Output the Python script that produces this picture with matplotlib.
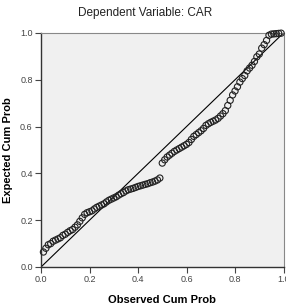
import numpy as np
import matplotlib
matplotlib.use('Agg')
import matplotlib.pyplot as plt

plt.rcParams['font.family'] = ['Liberation Sans', 'DejaVu Sans']

# observed cumulative probability (x) and expected cumulative probability (y)
observed = [0.01, 0.02, 0.03, 0.04, 0.05, 0.06, 0.07, 0.08, 0.09, 0.10,
            0.11, 0.12, 0.13, 0.14, 0.15, 0.16, 0.17, 0.18, 0.19, 0.20,
            0.21, 0.22, 0.23, 0.24, 0.25, 0.26, 0.27, 0.28, 0.29, 0.30,
            0.31, 0.32, 0.33, 0.34, 0.35, 0.36, 0.37, 0.38, 0.39, 0.40,
            0.41, 0.42, 0.43, 0.44, 0.45, 0.46, 0.47, 0.48, 0.49,
            0.50, 0.51, 0.52, 0.53, 0.54, 0.55, 0.56, 0.57, 0.58, 0.59,
            0.60, 0.61, 0.62, 0.63, 0.64, 0.65, 0.66, 0.67, 0.68, 0.69,
            0.70, 0.71, 0.72, 0.73, 0.74, 0.75, 0.76, 0.77, 0.78, 0.79,
            0.80, 0.81, 0.82, 0.83, 0.84, 0.85, 0.86, 0.87, 0.88, 0.89,
            0.90, 0.91, 0.92, 0.93, 0.94, 0.95, 0.96, 0.97, 0.98, 0.99]
expected = [0.064, 0.080, 0.095, 0.100, 0.110, 0.115, 0.120, 0.125, 0.135, 0.140,
            0.148, 0.155, 0.160, 0.170, 0.180, 0.195, 0.210, 0.225, 0.232, 0.236,
            0.240, 0.248, 0.255, 0.260, 0.265, 0.270, 0.278, 0.285, 0.290, 0.295,
            0.300, 0.307, 0.313, 0.318, 0.325, 0.330, 0.333, 0.336, 0.340, 0.344,
            0.347, 0.350, 0.353, 0.356, 0.360, 0.363, 0.367, 0.372, 0.380,
            0.444, 0.458, 0.470, 0.478, 0.486, 0.494, 0.500, 0.506, 0.512, 0.518,
            0.524, 0.532, 0.545, 0.558, 0.566, 0.574, 0.582, 0.592, 0.605, 0.612,
            0.618, 0.623, 0.628, 0.635, 0.645, 0.655, 0.668, 0.690, 0.712, 0.735,
            0.752, 0.770, 0.790, 0.805, 0.818, 0.838, 0.850, 0.862, 0.878, 0.898,
            0.910, 0.935, 0.950, 0.968, 0.990, 0.995, 0.996, 0.997, 0.998, 0.999]

ticks = [0.0, 0.2, 0.4, 0.6, 0.8, 1.0]

fig = plt.figure(figsize=(2.86, 3.05), dpi=100)
ax = fig.add_axes([0.1434, 0.1246, 0.848, 0.7674])
ax.set_facecolor('#f0f0f0')

ax.plot([0, 1], [0, 1], color='black', lw=0.8, zorder=2)
ax.scatter(observed, expected, s=20, facecolors='none', edgecolors='#222222',
           linewidths=0.8, zorder=3, clip_on=False)

ax.set_xlim(0, 1)
ax.set_ylim(0, 1)
ax.set_xticks(ticks)
ax.set_yticks(ticks)
ax.set_xticklabels(['%.1f' % t for t in ticks])
ax.set_yticklabels(['%.1f' % t for t in ticks])
ax.tick_params(labelsize=6.5, length=4, width=0.8, color='#444444',
               labelcolor='#444444', pad=2)
for s in ['left', 'bottom']:
    ax.spines[s].set_color('#333333')
    ax.spines[s].set_linewidth(1.0)
for s in ['top', 'right']:
    ax.spines[s].set_color('#888888')
    ax.spines[s].set_linewidth(0.8)

ax.set_xlabel('Observed Cum Prob', fontsize=8, fontweight='bold')
ax.set_ylabel('Expected Cum Prob', fontsize=8, fontweight='bold')
ax.xaxis.set_label_coords(0.5, -0.12)
ax.yaxis.set_label_coords(-0.115, 0.5)
fig.text(0.507, 0.957, 'Dependent Variable: CAR', ha='center', va='center',
         fontsize=8.5, color='#222222')

fig.savefig('out.png', dpi=100)
